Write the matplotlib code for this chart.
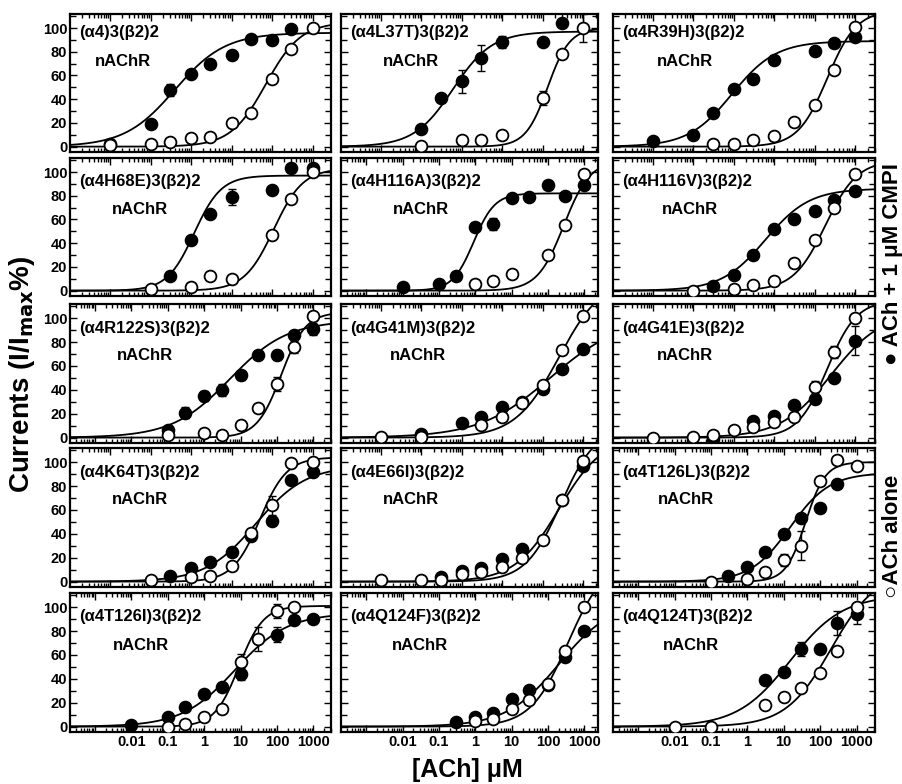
import numpy as np
import matplotlib
matplotlib.use("Agg")
import matplotlib.pyplot as plt
from matplotlib import font_manager
from matplotlib.ticker import MultipleLocator, FixedLocator, NullFormatter

_ = None

# ACh concentrations (uM) used in every panel
conc = [0.01, 0.03, 0.1, 0.3, 1, 3, 10, 30, 100, 300, 1000]

names = ["(α4)3(β2)2", "(α4L37T)3(β2)2", "(α4R39H)3(β2)2",
         "(α4H68E)3(β2)2", "(α4H116A)3(β2)2", "(α4H116V)3(β2)2",
         "(α4R122S)3(β2)2", "(α4G41M)3(β2)2", "(α4G41E)3(β2)2",
         "(α4K64T)3(β2)2", "(α4E66I)3(β2)2", "(α4T126L)3(β2)2",
         "(α4T126I)3(β2)2", "(α4Q124F)3(β2)2", "(α4Q124T)3(β2)2"]

# ACh + 1 uM CMPI (filled) / ACh alone (open), % of Imax
wt_cmpi    = [2, _, 19, 48, 61, 70, 77, 91, 90, 99, _]
wt_ach     = [1, _, 2, 4, 7, 8, 20, 28, 57, 82, 100]
l37t_cmpi  = [_, _, 15, 41, 55, 75, 88, _, 88, 104, _]
l37t_ach   = [_, _, 0.5, _, 6, 6, 10, _, 41, 78, 100]
r39h_cmpi  = [5, _, 10, 28, 49, 57, 73, _, 81, 87, 92]
r39h_ach   = [_, _, _, 2, 2, 6, 9, 21, 35, 65, 101]
h68e_cmpi  = [_, _, _, 12, 43, 65, 79, _, 85, 103, 103]
h68e_ach   = [_, _, 1, _, 3, 12, 10, _, 47, 77, 100]
h116a_cmpi = [3, _, 6, 12, 54, 56, 78, 79, 89, 80, 89]
h116a_ach  = [_, _, _, _, 6, 8, 14, _, 30, 55, 98]
h116v_cmpi = [_, _, _, 4, 13, 30, 52, 60, 67, 76, 84]
h116v_ach  = [_, _, 0, _, 1, 5, 8, 23, 43, 70, 98]
r122s_cmpi = [_, _, 6, 21, 35, 40, 52, 69, 69, 86, 91]
r122s_ach  = [_, _, 2, _, 4, 2, 10.5, 25, 45, 76, 102]
g41m_cmpi  = [_, _, 3, _, 12.5, 17.6, 25.6, 30, 41, 57, 74]
g41m_ach   = [0.5, _, 0.5, _, _, 10.5, 17, 29, 44, 73, 102]
g41e_cmpi  = [_, _, _, -1, _, 14, 18, 27, 32, 50, 81]
g41e_ach   = [0, _, 0.5, 2.5, 6, 8.5, 13, 17, 42, 72, 100]
k64t_cmpi  = [_, _, _, 5, 11, 16, 25, 38, 51, 85, 92]
k64t_ach   = [_, _, 1, _, 3.6, 5, 13, 41, 64, 99, 100]
e66i_cmpi  = [_, _, _, 4, 9, 11, 19, 27, _, 68, 97]
e66i_ach   = [1, _, 1, 1, 6, 8, 12, 20, 35, 68, 101]
t126l_cmpi = [_, _, _, 5, 12, 25, 40, 53, 62, 82, _]
t126l_ach  = [_, _, 0, _, 2, 8, 18, 30, 84, 102, 97]
t126i_cmpi = [1, _, 8, 16, 27, 33, 44, _, 77, 89, 90]
t126i_ach  = [_, _, 0, 2, 8, 15, 54, 73, 97, 100, _]
q124f_cmpi = [_, _, _, 4, 8, 11, 23, 31, 35, 58, 80]
q124f_ach  = [_, _, _, _, 5, 6, 15, 22, 36, 63, 100]
q124t_cmpi = [_, _, _, _, _, 39, 46, 65, 65, 87, 94]
q124t_ach  = [0, _, 0, _, _, 18, 25, 32, 45, 63, 100]

# error bars (SEM), 0 = none drawn
wt_cmpi_err    = [0, 0, 0, 5, 0, 0, 0, 0, 0, 0, 0]
l37t_cmpi_err  = [0, 0, 0, 0, 10, 11, 5, 0, 0, 0, 0]
l37t_ach_err   = [0, 0, 0, 0, 0, 0, 0, 0, 6, 0, 12]
h68e_cmpi_err  = [0, 0, 0, 0, 3, 0, 7, 0, 0, 0, 0]
h116a_cmpi_err = [0, 0, 0, 0, 0, 5, 0, 0, 0, 0, 0]
r122s_cmpi_err = [0, 0, 0, 5, 4, 5, 4, 3, 4, 3, 5]
r122s_ach_err  = [0, 0, 0, 0, 0, 0, 0, 0, 6, 5, 0]
g41e_cmpi_err  = [0, 0, 0, 0, 0, 0, 0, 0, 0, 0, 12]
g41e_ach_err   = [0, 0, 0, 0, 0, 0, 0, 0, 5, 5, 0]
k64t_ach_err   = [0, 0, 0, 0, 0, 0, 0, 0, 8, 0, 0]
t126l_ach_err  = [0, 0, 0, 0, 0, 0, 5, 12, 0, 0, 0]
t126i_cmpi_err = [0, 0, 0, 0, 0, 0, 5, 0, 6, 0, 0]
t126i_ach_err  = [0, 0, 0, 0, 0, 0, 7, 10, 6, 0, 0]
q124t_cmpi_err = [0, 0, 0, 0, 0, 0, 0, 6, 0, 10, 8]

cmpi_sets = [wt_cmpi, l37t_cmpi, r39h_cmpi, h68e_cmpi, h116a_cmpi, h116v_cmpi,
             r122s_cmpi, g41m_cmpi, g41e_cmpi, k64t_cmpi, e66i_cmpi, t126l_cmpi,
             t126i_cmpi, q124f_cmpi, q124t_cmpi]
ach_sets = [wt_ach, l37t_ach, r39h_ach, h68e_ach, h116a_ach, h116v_ach,
            r122s_ach, g41m_ach, g41e_ach, k64t_ach, e66i_ach, t126l_ach,
            t126i_ach, q124f_ach, q124t_ach]
cmpi_errs = [wt_cmpi_err, l37t_cmpi_err, None, h68e_cmpi_err, h116a_cmpi_err, None,
             r122s_cmpi_err, None, g41e_cmpi_err, None, None, None,
             t126i_cmpi_err, None, q124t_cmpi_err]
ach_errs = [None, l37t_ach_err, None, None, None, None,
            r122s_ach_err, None, g41e_ach_err, k64t_ach_err, None, t126l_ach_err,
            t126i_ach_err, None, None]

# Hill fits: (EC50 uM, nH, max %)
fit_cmpi = [(0.4, 0.7, 96), (0.6, 0.9, 97), (0.9, 0.8, 89),
            (1.2, 1.3, 97), (0.9, 1.5, 82), (6, 0.8, 86),
            (5, 0.55, 98), (150, 0.5, 100), (250, 0.7, 105),
            (40, 0.7, 97), (250, 0.8, 122), (15, 0.8, 91),
            (7, 0.6, 95), (200, 0.6, 105), (15, 0.6, 110)]
fit_ach = [(70, 1.0, 105), (130, 1.6, 100), (200, 1.2, 115),
           (110, 1.2, 103), (270, 1.2, 110), (180, 1.1, 110),
           (130, 1.3, 105), (250, 0.8, 135), (200, 1.2, 115),
           (50, 1.3, 104), (275, 1.0, 130), (40, 1.6, 100),
           (9, 1.3, 101), (350, 0.85, 140), (200, 0.7, 130)]

# each sub-plot was drawn on its own x scale (A: wider decades)
scale_type = ["A", "A", "A", "A", "B", "A", "B", "A", "A", "A", "A", "B", "B", "B", "B"]
nachr_dx = [25, 42, 44, 42, 52, 49, 47, 49, 44, 42, 42, 45, 43, 51, 50]

# fonts
avail = {f.name for f in font_manager.fontManager.ttflist}
if "Liberation Sans Narrow" in avail:
    tick_family, tick_size = "Liberation Sans Narrow", 12
else:
    tick_family, tick_size = "Liberation Sans", 10.5
plt.rcParams["font.family"] = ["Liberation Sans", "DejaVu Sans"]
plt.rcParams["font.weight"] = "bold"
plt.rcParams["mathtext.default"] = "bf"

W, H = 903, 784
fig = plt.figure(figsize=(W / 100, H / 100), dpi=100)

col_left = [70, 341, 613]
col_w = [261, 257, 262]
row_top = [14, 158, 304, 448, 593]
row_h = [138, 138, 139, 139, 139]


def hill(x, ec50, nh, top):
    return top * x ** nh / (ec50 ** nh + x ** nh)


for i in range(15):
    r, c = divmod(i, 3)
    left, w, top, h = col_left[c], col_w[c], row_top[r], row_h[r]
    ax = fig.add_axes([left / W, 1 - (top + h) / H, w / W, h / H])

    if scale_type[i] == "A":
        dp, p1000 = 40.5, 242.5
    else:
        dp, p1000 = 36.4, 243.5
    lo, hi = 3 - p1000 / dp, 3 + (w - p1000) / dp
    ax.set_xscale("log")
    ax.set_xlim(10 ** lo, 10 ** hi)
    ax.set_ylim(-4.5, 111.8)

    xs = np.logspace(lo, hi, 300)
    ax.plot(xs, hill(xs, *fit_cmpi[i]), color="black", lw=1.3, zorder=2)
    ax.plot(xs, hill(xs, *fit_ach[i]), color="black", lw=1.3, zorder=2)

    for vals, errs, face, z in [(cmpi_sets[i], cmpi_errs[i], "black", 3),
                                (ach_sets[i], ach_errs[i], "white", 4)]:
        xv = [x for x, v in zip(conc, vals) if v is not None]
        yv = [v for v in vals if v is not None]
        if errs is not None:
            ex = [x for x, e in zip(conc, errs) if e]
            ey = [v for v, e in zip(vals, errs) if e]
            ee = [e for e in errs if e]
            ax.errorbar(ex, ey, yerr=ee, fmt="none", ecolor="black",
                        elinewidth=1, capsize=3, capthick=1, zorder=z - 0.5)
        ax.plot(xv, yv, "o", ms=8.5, mfc=face, mec="black", mew=1.3,
                linestyle="none", zorder=z)

    # ticks
    ax.xaxis.set_major_locator(FixedLocator(10.0 ** np.arange(-4, 5)))
    minors = [m * 10.0 ** k for k in range(-4, 4) for m in range(2, 10)]
    ax.xaxis.set_minor_locator(FixedLocator(minors))
    ax.xaxis.set_minor_formatter(NullFormatter())
    if r == 4:
        ax.set_xticklabels(["", "", "0.01", "0.1", "1", "10", "100", "1000", ""])
    else:
        ax.set_xticklabels([])
    ax.set_yticks([0, 20, 40, 60, 80, 100])
    ax.yaxis.set_minor_locator(MultipleLocator(10))
    if c == 0:
        ax.set_yticklabels(["0", "20", "40", "60", "80", "100"])
    else:
        ax.set_yticklabels([])
    ax.tick_params(which="both", direction="in", top=True, right=True,
                   width=1, pad=2)
    ax.tick_params(which="major", length=5)
    ax.tick_params(which="minor", length=3)
    ax.tick_params(axis="y", which="minor", length=4)
    for lab in ax.get_xticklabels() + ax.get_yticklabels():
        lab.set_family([tick_family, "DejaVu Sans"])
        lab.set_fontsize(tick_size)
        lab.set_fontweight("bold")
    for sp in ax.spines.values():
        sp.set_linewidth(1.6)

    ty = 19 if r == 0 else 24
    ny = 48 if r == 0 else 52
    ax.text(9 / w, 1 - ty / h, names[i], transform=ax.transAxes,
            fontsize=12, fontweight="bold", ha="left", va="center")
    ax.text(nachr_dx[i] / w, 1 - ny / h, "nAChR", transform=ax.transAxes,
            fontsize=12, fontweight="bold", ha="left", va="center")

fig.text(22 / W, 1 - 374 / H, "Currents (I/I$_{\\mathbf{max}}$%)", rotation=90,
         fontsize=20, fontweight="bold", ha="center", va="center")
fig.text(467 / W, 1 - 770 / H, "[ACh] μM", fontsize=18, fontweight="bold",
         ha="center", va="center")
fig.text(893 / W, 1 - 365 / H, "● ACh + 1 μM CMPI", rotation=90,
         fontsize=16, fontweight="bold", ha="center", va="bottom")
fig.text(893 / W, 1 - 598 / H, "○ACh alone", rotation=90,
         fontsize=16, fontweight="bold", ha="center", va="bottom")

fig.savefig("out.png", dpi=100)
